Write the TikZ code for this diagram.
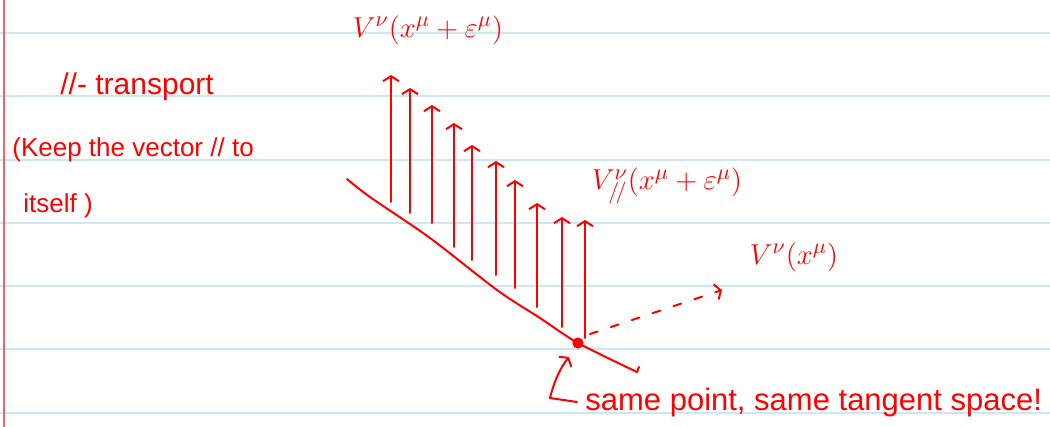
\documentclass[tikz,border=0pt]{standalone}
\usepackage{fontspec}
\setmainfont{Liberation Sans}
\usetikzlibrary{arrows.meta}
\definecolor{ink}{HTML}{FF0000}
\definecolor{rule}{HTML}{CBE6F8}
\definecolor{margin}{HTML}{F06464}
\tikzset{
  >={Straight Barb[length=2.5pt,width=8pt]},
  ruled/.style={draw=rule,line width=1pt},
  pen/.style={draw=ink,line width=1pt,line cap=round,line join=round},
  vec/.style={pen,->},
  dashvec/.style={pen,->,dash pattern=on 4pt off 7pt},
  note/.style={text=ink,inner sep=0pt,anchor=west,font=\fontsize{13}{15}\selectfont},
  formula/.style={text=ink,inner sep=0pt,font=\fontsize{15}{17}\selectfont}
}
\begin{document}
\begin{tikzpicture}[x=0.5pt,y=-0.5pt]
  \useasboundingbox (0,0) rectangle (1050,427);
  % ruled paper
  \foreach \y in {33,96.3,159.6,222.9,286.2,349.5,412.8}
    \draw[ruled] (0,\y) -- (1050,\y);
  \draw[draw=margin,line width=1pt] (4,0) -- (4,427);

  % curve and the point x^mu
  \draw[pen] plot[smooth,tension=0.5] coordinates
    {(347,179) (370,197) (430,238) (497,290) (540,318) (578,343) (637,372)};
  \draw[pen] (637,372) -- (639,367);
  \coordinate (p) at (578,343);
  \fill[ink] (p) circle (2.8pt);

  % parallel transported vectors
  \foreach \x/\t/\b in {391/75/202,410/88/213,432/105/223,454/123/247,
    472/145/260,496/161/275,515/180/288,537/203/307,562/217/327,585/220/338}
    \draw[vec] (\x,\b) -- (\x,\t);

  % vector at x^mu
  \coordinate (tip) at (722,290);
  \draw[dashvec] (590,334) -- (tip);

  % labels
  \node[formula] (top) at (428,30) {$V^{\nu}(x^{\mu}+\varepsilon^{\mu})$};
  \node[formula] (par) at (667,186) {$V^{\nu}_{/\!/}(x^{\mu}+\varepsilon^{\mu})$};
  \node[formula] (vx) at (794,257) {$V^{\nu}(x^{\mu})$};

  \node[note,font=\fontsize{15}{17}\selectfont] (title) at (60,87) {//- transport};
  \node[note] (keep) at (12,150) {(Keep the vector // to};
  \node[note] (itself) at (23,206) {itself )};
  \node[note,font=\fontsize{15.5}{17}\selectfont] (same) at (585,402)
    {same point, same tangent space!};

  % pointer to the point
  \draw[vec] ([xshift=-4pt]same.west) -- (550,398)
    .. controls (554,382) and (560,368) .. (569,357);
\end{tikzpicture}
\end{document}
